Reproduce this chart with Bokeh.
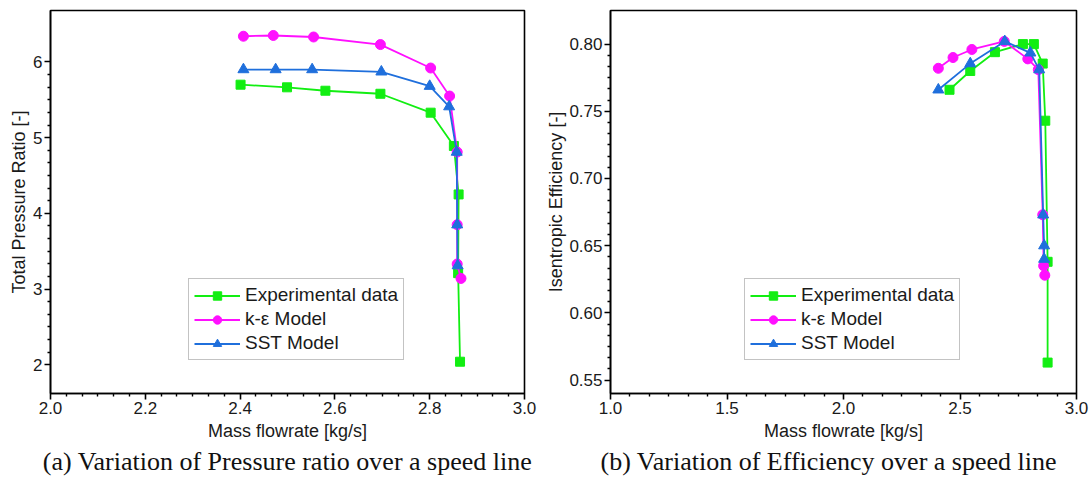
import numpy as np
from bokeh.plotting import figure
from bokeh.layouts import row
from bokeh.models import FixedTicker, Range1d, Legend, LegendItem, Title, PrintfTickFormatter
from bokeh.embed import file_html
from bokeh.resources import INLINE

# ---------------- data ----------------
series_names = ["Experimental data", "k-\u03b5 Model", "SST Model"]

# (a) total pressure ratio vs mass flow rate
pr_exp_x = [2.401, 2.499, 2.580, 2.696, 2.802, 2.851, 2.861, 2.860, 2.864]
pr_exp_y = [5.70, 5.665, 5.62, 5.58, 5.33, 4.89, 4.25, 3.21, 2.04]
pr_ke_x = [2.407, 2.470, 2.555, 2.696, 2.802, 2.842, 2.858, 2.858, 2.858, 2.866]
pr_ke_y = [6.34, 6.35, 6.33, 6.23, 5.92, 5.55, 4.81, 3.85, 3.33, 3.14]
pr_sst_x = [2.407, 2.475, 2.552, 2.698, 2.800, 2.841, 2.857, 2.858, 2.859]
pr_sst_y = [5.90, 5.90, 5.90, 5.87, 5.68, 5.41, 4.81, 3.85, 3.31]

# (b) isentropic efficiency vs mass flow rate
eff_exp_x = [2.455, 2.544, 2.650, 2.770, 2.817, 2.855, 2.866, 2.876, 2.876]
eff_exp_y = [0.766, 0.780, 0.794, 0.800, 0.800, 0.7855, 0.743, 0.638, 0.563]
eff_ke_x = [2.407, 2.470, 2.551, 2.690, 2.791, 2.836, 2.855, 2.859, 2.864]
eff_ke_y = [0.782, 0.790, 0.796, 0.802, 0.789, 0.781, 0.673, 0.635, 0.628]
eff_sst_x = [2.407, 2.544, 2.692, 2.802, 2.840, 2.857, 2.861, 2.861]
eff_sst_y = [0.766, 0.7855, 0.802, 0.7935, 0.781, 0.673, 0.650, 0.640]

pr_xticks = [2.0, 2.2, 2.4, 2.6, 2.8, 3.0]
pr_yticks = [2, 3, 4, 5, 6]
eff_xticks = [1.0, 1.5, 2.0, 2.5, 3.0]
eff_yticks = [0.55, 0.60, 0.65, 0.70, 0.75, 0.80]

captions = ["(a) Variation of Pressure ratio over a speed line",
            "(b) Variation of Efficiency over a speed line"]

GREEN = "#12ee12"
MAGENTA = "#ff10ff"
BLUE = "#1f6fdc"
SANS = "Liberation Sans"


def minor(ticks, n):
    out = []
    for a, b in zip(ticks[:-1], ticks[1:]):
        out += list(np.linspace(a, b, n + 1)[1:-1])
    return out


def make_fig(width, xr, yr, xt, yt, xfmt, yfmt, xlabel, ylabel, caption,
             series, border_left, border_right, legend_loc, ylab_standoff,
             cap_align, cap_offset):
    p = figure(width=width, height=483, output_backend="svg", toolbar_location=None,
               x_range=Range1d(*xr), y_range=Range1d(*yr),
               min_border_left=border_left, min_border_right=border_right,
               min_border_top=10, min_border_bottom=90)
    p.xgrid.visible = False
    p.ygrid.visible = False
    p.outline_line_color = "black"
    p.outline_line_width = 1.6
    p.background_fill_color = "white"
    p.border_fill_color = "white"

    p.xaxis.ticker = FixedTicker(ticks=xt, minor_ticks=minor(xt, 6))
    p.yaxis.ticker = FixedTicker(ticks=yt, minor_ticks=minor(yt, 6))
    p.xaxis.formatter = PrintfTickFormatter(format=xfmt)
    p.yaxis.formatter = PrintfTickFormatter(format=yfmt)
    for ax in (p.xaxis[0], p.yaxis[0]):
        ax.axis_line_width = 1.6
        ax.major_tick_line_width = 1.6
        ax.minor_tick_line_width = 1.4
        ax.major_tick_out = 6
        ax.major_tick_in = 0
        ax.minor_tick_out = 3
        ax.minor_tick_in = 0
        ax.major_label_text_font = SANS
        ax.major_label_text_font_size = "17px"
        ax.major_label_text_color = "#1a1a1a"
        ax.axis_label_text_font = SANS
        ax.axis_label_text_font_size = "18px"
        ax.axis_label_text_font_style = "normal"
        ax.axis_label_text_color = "#1a1a1a"
        ax.major_label_standoff = 2
    p.xaxis.axis_label = xlabel
    p.yaxis.axis_label = ylabel
    p.xaxis.axis_label_standoff = 4
    p.yaxis.axis_label_standoff = ylab_standoff

    items = []
    colors = [GREEN, MAGENTA, BLUE]
    markers = ["square", "circle", "triangle"]
    sizes = [9, 10, 11]
    for (xs, ys), name, c, m, s in zip(series, series_names, colors, markers, sizes):
        l = p.line(xs, ys, line_color=c, line_width=1.8)
        r = p.scatter(xs, ys, marker=m, size=s, fill_color=c, line_color=c)
        items.append(LegendItem(label=name, renderers=[l, r]))

    leg = Legend(items=items, location=legend_loc)
    leg.label_text_font = SANS
    leg.label_text_font_size = "19px"
    leg.label_text_color = "#1a1a1a"
    leg.glyph_width = 46
    leg.glyph_height = 21
    leg.label_height = 21
    leg.spacing = 2
    leg.padding = 5
    leg.margin = 0
    leg.label_standoff = 5
    leg.border_line_color = "#888888"
    leg.border_line_width = 1
    leg.background_fill_alpha = 1
    p.add_layout(leg, "center")

    t = Title(text=caption, align=cap_align, offset=cap_offset,
              text_font="Liberation Serif",
              text_font_size="26px", text_font_style="normal", text_color="#111111",
              standoff=2)
    p.add_layout(t, "below")
    return p


p1 = make_fig(543, (2.0, 3.0), (1.62, 6.68), pr_xticks, pr_yticks, "%.1f", "%d",
              "Mass flowrate [kg/s]", "Total Pressure Ratio [-]", captions[0],
              [(pr_exp_x, pr_exp_y), (pr_ke_x, pr_ke_y), (pr_sst_x, pr_sst_y)],
              50, 19, (138, 33), 1, "center", 0)
p2 = make_fig(549, (1.0, 3.0), (0.540, 0.825), eff_xticks, eff_yticks, "%.1f", "%.2f",
              "Mass flowrate [kg/s]", "Isentropic Efficiency [-]", captions[1],
              [(eff_exp_x, eff_exp_y), (eff_ke_x, eff_ke_y), (eff_sst_x, eff_sst_y)],
              61, 16, (134, 33), 0, "left", -10)

layout = row(p1, p2, spacing=0)
open("out.html", "w").write(file_html(layout, INLINE))
